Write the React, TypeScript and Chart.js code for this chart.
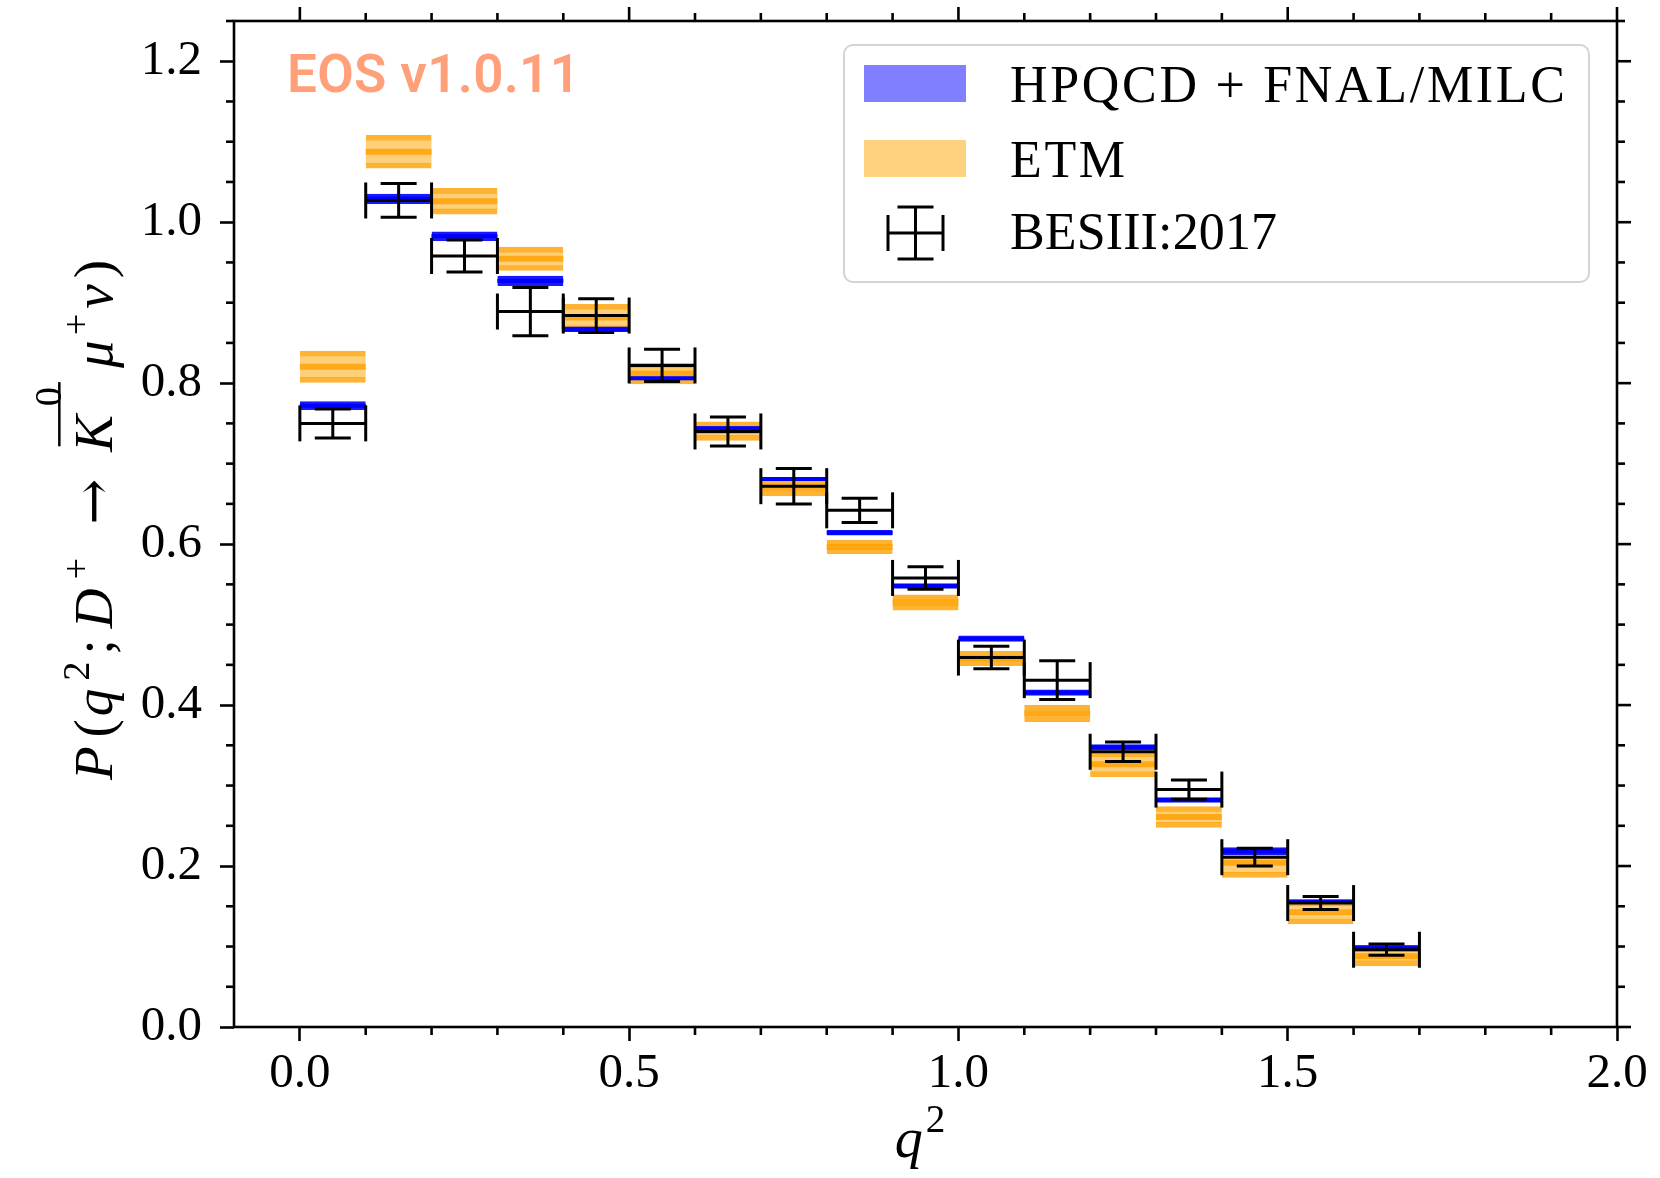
import React, { useEffect, useRef } from 'react';
import { Chart, registerables } from 'chart.js';

Chart.register(...registerables);

// ---------------- data ----------------
const BIN_LO = [0.0, 0.1, 0.2, 0.3, 0.4, 0.5, 0.6, 0.7, 0.8, 0.9, 1.0, 1.1, 1.2, 1.3, 1.4, 1.5, 1.6];
const BIN_HI = [0.1, 0.2, 0.3, 0.4, 0.5, 0.6, 0.7, 0.8, 0.9, 1.0, 1.1, 1.2, 1.3, 1.4, 1.5, 1.6, 1.7];

const HPQCD_LO = [0.767, 1.023, 0.977, 0.921, 0.864, 0.804, 0.742, 0.679, 0.611, 0.545, 0.479, 0.412, 0.344, 0.279, 0.214, 0.154, 0.097];
const HPQCD_HI = [0.777, 1.035, 0.988, 0.933, 0.870, 0.808, 0.746, 0.683, 0.617, 0.551, 0.486, 0.419, 0.351, 0.285, 0.223, 0.158, 0.101];

const ETM_LO = [0.801, 1.067, 1.010, 0.940, 0.865, 0.799, 0.729, 0.660, 0.588, 0.518, 0.449, 0.379, 0.311, 0.248, 0.186, 0.128, 0.076];
const ETM_HI = [0.840, 1.108, 1.042, 0.969, 0.898, 0.825, 0.752, 0.681, 0.605, 0.537, 0.467, 0.400, 0.342, 0.274, 0.222, 0.157, 0.100];

const BES_VAL = [0.750, 1.027, 0.958, 0.889, 0.884, 0.822, 0.740, 0.672, 0.642, 0.558, 0.459, 0.431, 0.342, 0.295, 0.211, 0.154, 0.096];
const BES_ERR = [0.018, 0.021, 0.020, 0.030, 0.021, 0.020, 0.018, 0.022, 0.015, 0.014, 0.014, 0.024, 0.012, 0.012, 0.011, 0.008, 0.007];

const LEGEND_LABELS = ['HPQCD + FNAL/MILC', 'ETM', 'BESIII:2017'];
const WATERMARK = 'EOS v1.0.11';

const X_RANGE = [-0.1, 2.0];
const Y_RANGE = [0.0, 1.25];
const X_TICKS = [0.0, 0.5, 1.0, 1.5, 2.0];
const Y_TICKS = [0.0, 0.2, 0.4, 0.6, 0.8, 1.0, 1.2];
const X_MINOR_STEP = 0.1;
const Y_MINOR_STEP = 0.05;

// ---------------- styles ----------------
const SERIF = '"Liberation Serif", "DejaVu Serif", serif';
const BLUE_FILL = 'rgba(0,0,255,0.68)';
const BLUE_EDGE = 'rgba(0,0,255,0.9)';
const BLUE_LINE = 'rgb(0,0,255)';
const ORANGE_FILL = 'rgba(255,165,0,0.52)';
const ORANGE_EDGE = 'rgba(255,160,0,0.8)';
const CAP = 18;
const LW = 3;
const FRAME_LW = 2.6;

type Seg = { t: string; it?: boolean; sup?: number; over?: boolean; gap?: number; fam?: string; scale?: number };

function fontFor(s: Seg, size: number) {
  const sz = (s.sup ? size * 0.7 : size) * (s.scale || 1);
  return `${s.it ? 'italic ' : ''}${sz}px ${s.fam || SERIF}`;
}
function measureSegs(ctx: CanvasRenderingContext2D, segs: Seg[], size: number) {
  let w = 0;
  for (const s of segs) {
    ctx.font = fontFor(s, size);
    w += ctx.measureText(s.t).width + (s.gap || 0);
  }
  return w;
}
function drawSegs(ctx: CanvasRenderingContext2D, segs: Seg[], size: number, x0: number, y0: number, extra: number) {
  let x = x0;
  for (const s of segs) {
    ctx.font = fontFor(s, size);
    const w = ctx.measureText(s.t).width;
    const y = y0 - (s.sup ? s.sup * size : 0);
    ctx.fillText(s.t, x, y);
    if (s.over) {
      ctx.fillRect(x + size * 0.1, y0 - size * 0.98, w + size * 0.5, size * 0.045);
    }
    x += w + (s.gap || 0) + extra;
  }
}

function fitText(ctx: CanvasRenderingContext2D, text: string, x: number, y: number, target: number) {
  (ctx as any).letterSpacing = '0px';
  const w = ctx.measureText(text).width;
  const sp = Math.max(-3, (target - w) / Math.max(1, text.length - 1));
  (ctx as any).letterSpacing = `${sp}px`;
  ctx.fillText(text, x, y);
  (ctx as any).letterSpacing = '0px';
}

const decorPlugin = {
  id: 'decor',
  afterDraw(chart: any) {
    const ctx: CanvasRenderingContext2D = chart.ctx;
    const { left, right, top, bottom } = chart.chartArea;
    const xs = chart.scales.x;
    const ys = chart.scales.y;
    ctx.save();
    ctx.strokeStyle = '#000';
    ctx.fillStyle = '#000';
    ctx.lineWidth = FRAME_LW;
    ctx.lineCap = 'butt';
    const line = (x1: number, y1: number, x2: number, y2: number) => {
      ctx.beginPath();
      ctx.moveTo(x1, y1);
      ctx.lineTo(x2, y2);
      ctx.stroke();
    };
    // frame
    ctx.strokeRect(left, top, right - left, bottom - top);
    const MAJ = 14;
    const MIN = 8;
    const isMajor = (v: number, arr: number[]) => arr.some((t) => Math.abs(t - v) < 1e-6);
    for (let i = 0; ; i++) {
      const v = Math.round((X_RANGE[0] + i * X_MINOR_STEP) * 1000) / 1000;
      if (v > X_RANGE[1] + 1e-9) break;
      if (v <= X_RANGE[0] + 1e-6) continue;
      const px = xs.getPixelForValue(v);
      if (isMajor(v, X_TICKS)) {
        line(px, top, px, top - MAJ);
      } else {
        line(px, top, px, top - MIN);
        line(px, bottom, px, bottom + MIN);
      }
    }
    for (let i = 0; ; i++) {
      const v = Math.round((Y_RANGE[0] + i * Y_MINOR_STEP) * 1000) / 1000;
      if (v > Y_RANGE[1] + 1e-9) break;
      const py = ys.getPixelForValue(v);
      if (isMajor(v, Y_TICKS)) {
        line(right, py, right + MAJ, py);
      } else {
        line(right, py, right + MIN, py);
        line(left, py, left - MIN, py);
      }
    }

    // watermark
    ctx.fillStyle = '#FFA07A';
    ctx.font = '600 53px Roboto, "DejaVu Sans", sans-serif';
    ctx.textBaseline = 'alphabetic';
    ctx.textAlign = 'left';
    fitText(ctx, WATERMARK, 287, 92, 293);

    // legend
    const lx = 844, ly = 45, lw = 745, lh = 237;
    ctx.beginPath();
    ctx.roundRect(lx, ly, lw, lh, 9);
    ctx.fillStyle = 'rgba(255,255,255,0.85)';
    ctx.fill();
    ctx.strokeStyle = '#d4d4d4';
    ctx.lineWidth = 2;
    ctx.stroke();
    ctx.fillStyle = 'rgba(0,0,255,0.5)';
    ctx.fillRect(864, 65, 102, 37);
    ctx.fillStyle = 'rgba(255,165,0,0.5)';
    ctx.fillRect(864, 140, 102, 37);
    ctx.strokeStyle = '#000';
    ctx.lineWidth = LW;
    const cx = 915.5, cy = 233;
    line(888, cy, 943, cy);
    line(cx, 207, cx, 259);
    line(888, cy - CAP, 888, cy + CAP);
    line(943, cy - CAP, 943, cy + CAP);
    line(cx - CAP, 207, cx + CAP, 207);
    line(cx - CAP, 259, cx + CAP, 259);
    ctx.fillStyle = '#000';
    ctx.font = `52px ${SERIF}`;
    fitText(ctx, LEGEND_LABELS[0], 1010, 102, 555);
    fitText(ctx, LEGEND_LABELS[1], 1010, 177, 115);
    fitText(ctx, LEGEND_LABELS[2], 1010, 249, 267);

    // x title
    const xsize = 56;
    const xt: Seg[] = [{ t: 'q', it: true, gap: 3 }, { t: '2', sup: 0.45 }];
    const xw = measureSegs(ctx, xt, xsize);
    drawSegs(ctx, xt, xsize, 920 - xw / 2, 1157, 0);

    // y title
    const size = 55;
    const yt: Seg[] = [
      { t: 'P', it: true, gap: 6 },
      { t: '(' },
      { t: 'q', it: true, gap: 5 },
      { t: '2', sup: 0.42, gap: 4 },
      { t: ';', gap: 8 },
      { t: 'D', it: true, gap: 6 },
      { t: '+', sup: 0.42, gap: 30 },
      { t: '\u2192', fam: '"DejaVu Serif", serif', gap: 24 },
      { t: 'K', it: true, over: true, gap: 6 },
      { t: '0', sup: 0.92, gap: 16 },
      { t: '\u03bc', it: true, gap: 2 },
      { t: '+', sup: 0.42, gap: 2 },
      { t: '\u03bd', it: true, gap: 3 },
      { t: ')' },
    ];
    const target = 520;
    const yw = measureSegs(ctx, yt, size);
    const extra = Math.max(-2, Math.min(4, (target - yw) / (yt.length - 1)));
    ctx.save();
    ctx.translate(112, 780);
    ctx.rotate(-Math.PI / 2);
    drawSegs(ctx, yt, size, 0, 0, extra);
    ctx.restore();

    ctx.restore();
  },
};

function buildSegments(x0: number[], x1: number[], ys: number[]) {
  const out: any[] = [];
  for (let i = 0; i < ys.length; i++) {
    out.push({ x: x0[i], y: ys[i] }, { x: x1[i], y: ys[i] }, { x: x1[i], y: null });
  }
  return out;
}

export default function App() {
  const ref = useRef<HTMLCanvasElement | null>(null);

  useEffect(() => {
    document.body.style.margin = '0';
    const canvas = ref.current!;
    const centers = BIN_LO.map((lo, i) => (lo + BIN_HI[i]) / 2);
    const etmMid = ETM_LO.map((lo, i) => (lo + ETM_HI[i]) / 2);
    const hpMid = HPQCD_LO.map((lo, i) => (lo + HPQCD_HI[i]) / 2);

    const besVert: any[] = [];
    const besHCaps: any[] = [];
    const besVCaps: any[] = [];
    for (let i = 0; i < BES_VAL.length; i++) {
      const lo = BES_VAL[i] - BES_ERR[i];
      const hi = BES_VAL[i] + BES_ERR[i];
      besVert.push({ x: centers[i], y: lo }, { x: centers[i], y: hi }, { x: centers[i], y: null });
      besHCaps.push({ x: centers[i], y: lo }, { x: centers[i], y: hi });
      besVCaps.push({ x: BIN_LO[i], y: BES_VAL[i] }, { x: BIN_HI[i], y: BES_VAL[i] });
    }

    const lineBase = {
      type: 'line' as const,
      pointRadius: 0,
      fill: false,
      tension: 0,
      spanGaps: false,
      borderCapStyle: 'butt' as const,
    };

    const chart = new Chart(canvas, {
      type: 'bar',
      data: {
        datasets: [
          {
            type: 'bar',
            label: 'ETM',
            data: centers.map((c, i) => ({ x: c, y: [ETM_LO[i], ETM_HI[i]] })) as any,
            backgroundColor: ORANGE_FILL,
            borderColor: ORANGE_EDGE,
            borderWidth: { top: 5, bottom: 5, left: 0, right: 0 },
            borderSkipped: false,
            barPercentage: 1,
            categoryPercentage: 1,
            grouped: false,
            order: 10,
          } as any,
          {
            ...lineBase,
            label: 'ETM central',
            data: buildSegments(BIN_LO, BIN_HI, etmMid),
            borderColor: ORANGE_EDGE,
            borderWidth: 6,
            order: 9,
          } as any,
          {
            type: 'bar',
            label: 'HPQCD + FNAL/MILC',
            data: centers.map((c, i) => ({ x: c, y: [HPQCD_LO[i], HPQCD_HI[i]] })) as any,
            backgroundColor: BLUE_FILL,
            borderColor: BLUE_EDGE,
            borderWidth: { top: 3, bottom: 3, left: 0, right: 0 },
            borderSkipped: false,
            barPercentage: 1,
            categoryPercentage: 1,
            grouped: false,
            order: 8,
          } as any,
          {
            ...lineBase,
            label: 'HPQCD central',
            data: buildSegments(BIN_LO, BIN_HI, hpMid),
            borderColor: BLUE_LINE,
            borderWidth: 4,
            order: 7,
          } as any,
          {
            ...lineBase,
            label: 'BESIII:2017 bins',
            data: buildSegments(BIN_LO, BIN_HI, BES_VAL),
            borderColor: '#000',
            borderWidth: LW,
            order: 4,
          } as any,
          {
            ...lineBase,
            label: 'BESIII:2017 errors',
            data: besVert,
            borderColor: '#000',
            borderWidth: LW,
            order: 3,
          } as any,
          {
            type: 'line',
            label: 'BESIII caps h',
            data: besHCaps,
            showLine: false,
            pointStyle: 'line',
            pointRadius: CAP,
            pointRotation: 0,
            pointBorderWidth: LW,
            pointBorderColor: '#000',
            pointBackgroundColor: '#000',
            order: 2,
          } as any,
          {
            type: 'line',
            label: 'BESIII caps v',
            data: besVCaps,
            showLine: false,
            pointStyle: 'line',
            pointRadius: CAP,
            pointRotation: 90,
            pointBorderWidth: LW,
            pointBorderColor: '#000',
            pointBackgroundColor: '#000',
            order: 1,
          } as any,
        ],
      },
      options: {
        responsive: false,
        animation: false,
        devicePixelRatio: 1,
        events: [],
        layout: { padding: { left: 0, top: 18, right: 43, bottom: 0 } },
        plugins: { legend: { display: false }, tooltip: { enabled: false } },
        scales: {
          x: {
            type: 'linear',
            position: 'bottom',
            min: X_RANGE[0],
            max: X_RANGE[1],
            offset: false,
            afterBuildTicks: (s: any) => {
              s.ticks = X_TICKS.map((v) => ({ value: v }));
            },
            afterFit: (s: any) => {
              s.height = 151;
              s.paddingLeft = 0;
              s.paddingRight = 0;
              s.paddingTop = 0;
              s.paddingBottom = 0;
            },
            ticks: {
              callback: (v: any) => Number(v).toFixed(1),
              font: { family: SERIF, size: 49 },
              color: '#000',
              padding: 4,
              maxRotation: 0,
              autoSkip: false,
            },
            grid: {
              display: true,
              drawOnChartArea: false,
              drawTicks: true,
              tickLength: 14,
              tickWidth: FRAME_LW,
              tickColor: '#000',
              offset: false,
            },
            border: { display: false },
          },
          y: {
            type: 'linear',
            position: 'left',
            min: Y_RANGE[0],
            max: Y_RANGE[1],
            afterBuildTicks: (s: any) => {
              s.ticks = Y_TICKS.map((v) => ({ value: v }));
            },
            afterFit: (s: any) => {
              s.width = 234;
              s.paddingLeft = 0;
              s.paddingRight = 0;
              s.paddingTop = 0;
              s.paddingBottom = 0;
            },
            ticks: {
              callback: (v: any) => Number(v).toFixed(1),
              font: { family: SERIF, size: 49 },
              color: '#000',
              padding: 18,
              autoSkip: false,
            },
            grid: {
              display: true,
              drawOnChartArea: false,
              drawTicks: true,
              tickLength: 14,
              tickWidth: FRAME_LW,
              tickColor: '#000',
            },
            border: { display: false },
          },
        },
      } as any,
      plugins: [decorPlugin],
    });
    return () => chart.destroy();
  }, []);

  return (
    <div style={{ position: 'fixed', left: 0, top: 0, width: 1660, height: 1178, background: '#fff', overflow: 'hidden' }}>
      <canvas ref={ref} width={1660} height={1178} style={{ display: 'block', width: 1660, height: 1178 }} />
    </div>
  );
}
